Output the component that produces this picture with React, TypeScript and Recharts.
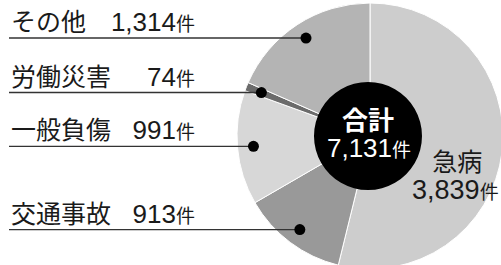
import { PieChart, Pie, Cell } from 'recharts';

const categories = ['急病', '交通事故', '一般負傷', '労働災害', 'その他'];
const counts = [3839, 913, 991, 74, 1314];
const colors = ['#cdcdcd', '#999999', '#d7d7d7', '#6b6b6b', '#b4b4b4'];
const unit = '件';
const totalLabel = '合計';

const data = categories.map((name, i) => ({ name, value: counts[i] }));
const total = counts.reduce((s, v) => s + v, 0);

const FONT = '"Liberation Sans", Arial, "Noto Sans CJK JP", sans-serif';
const RADIAN = Math.PI / 180;

const fmt = (v: number) => v.toLocaleString('en-US');

const renderLabel = (props: any) => {
  const { cx, cy, midAngle, outerRadius, index, name, value } = props;
  if (index === 0) {
    const r = 88;
    const x = cx + r * Math.cos(-midAngle * RADIAN);
    const y = cy + r * Math.sin(-midAngle * RADIAN);
    return (
      <g key={`label-${index}`} fontFamily={FONT} fill="#1a1a1a">
        <text x={x} y={y + 24} textAnchor="middle" fontSize={25}>
          {name}
        </text>
        <text x={x - 2} y={y + 52} textAnchor="middle">
          <tspan fontSize={27}>{fmt(value)}</tspan>
          <tspan fontSize={19}>{unit}</tspan>
        </text>
      </g>
    );
  }
  const r = outerRadius - 16;
  const dx = cx + r * Math.cos(-midAngle * RADIAN);
  const dy = cy + r * Math.sin(-midAngle * RADIAN);
  return (
    <g key={`label-${index}`} fontFamily={FONT} fill="#1a1a1a">
      <line x1={9} y1={dy} x2={dx} y2={dy} stroke="#333" strokeWidth={1.4} />
      <circle cx={dx} cy={dy} r={5.5} fill="#000" />
      <text x={11} y={dy - 7} fontSize={25}>
        {name}
      </text>
      <text x={195} y={dy - 7} textAnchor="end">
        <tspan fontSize={26}>{fmt(value)}</tspan>
        <tspan fontSize={19}>{unit}</tspan>
      </text>
    </g>
  );
};

const renderCenter = (props: any) => {
  const { cx, cy } = props;
  return (
    <g key="center" fontFamily={FONT} fill="#fff">
      <text x={cx} y={cy - 6} textAnchor="middle" fontSize={26} fontWeight="bold">
        {totalLabel}
      </text>
      <text x={cx + 1} y={cy + 21} textAnchor="middle">
        <tspan fontSize={26}>{fmt(total)}</tspan>
        <tspan fontSize={19}>{unit}</tspan>
      </text>
    </g>
  );
};

export default function App() {
  return (
    <div style={{ position: 'absolute', left: 0, top: 0, width: 501, height: 265, background: '#fff' }}>
      <PieChart width={501} height={265} margin={{ top: 0, right: 0, bottom: 0, left: 0 }}>
        <Pie
          data={data}
          dataKey="value"
          cx={370}
          cy={136}
          outerRadius={133}
          startAngle={90}
          endAngle={-270}
          stroke="#ffffff"
          strokeWidth={1}
          label={renderLabel}
          labelLine={false}
          isAnimationActive={false}
        >
          {data.map((entry, i) => (
            <Cell key={`cell-${entry.name}`} fill={colors[i]} />
          ))}
        </Pie>
        <Pie
          data={[{ name: totalLabel, value: total }]}
          dataKey="value"
          cx={368}
          cy={136}
          outerRadius={54}
          startAngle={90}
          endAngle={-270}
          fill="#000000"
          stroke="none"
          label={renderCenter}
          labelLine={false}
          isAnimationActive={false}
        />
      </PieChart>
    </div>
  );
}
